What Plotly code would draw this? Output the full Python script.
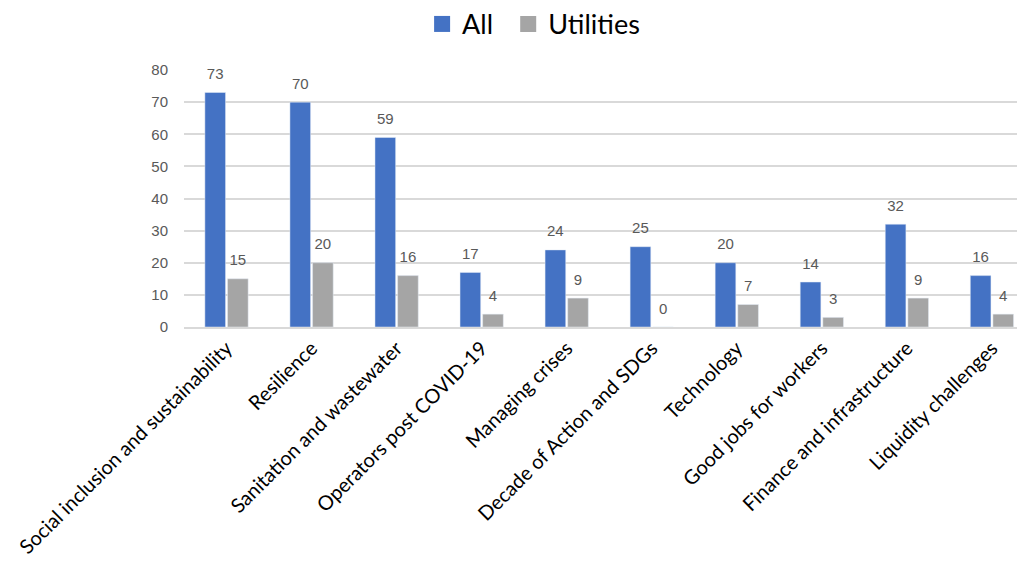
import plotly.graph_objects as go

categories = ["Social inclusion and sustainability", "Resilience", "Sanitation and wastewater",
              "Operators post COVID-19", "Managing crises", "Decade of Action and SDGs",
              "Technology", "Good jobs for workers", "Finance and infrastructure", "Liquidity challenges"]
all_vals = [73, 70, 59, 17, 24, 25, 20, 14, 32, 16]
util_vals = [15, 20, 16, 4, 9, 0, 7, 3, 9, 4]
y_ticks = [0, 10, 20, 30, 40, 50, 60, 70, 80]

series = [("All", all_vals, "#4472C4", "a", "legend"),
          ("Utilities", util_vals, "#A5A5A5", "b", "legend2")]
label_font = dict(color="#595959", size=15, family="Liberation Sans")

fig = go.Figure()
for name, vals, color, grp, lg in series:
    fig.add_trace(go.Bar(name=name, x=categories, y=vals, marker_color=color,
                         offsetgroup=grp, showlegend=False))
for name, vals, color, grp, lg in series:
    fig.add_trace(go.Scatter(x=categories, y=vals, mode="markers+text", text=vals,
                             textposition="top center", textfont=label_font,
                             marker=dict(size=14, opacity=0), offsetgroup=grp,
                             showlegend=False, cliponaxis=False, hoverinfo="skip"))
for name, vals, color, grp, lg in series:
    fig.add_trace(go.Scatter(x=[None], y=[None], mode="markers", name=name, legend=lg,
                             marker=dict(symbol="square", size=19, color=color),
                             xaxis="x2", yaxis="y2"))

legend_common = dict(orientation="h", xanchor="left", xref="container", yref="container",
                     y=0.971, yanchor="middle", itemwidth=30,
                     font=dict(size=27, family="Lato", color="#000000"))
fig.update_layout(
    width=1025, height=565,
    barmode="group", bargap=0.468, bargroupgap=0.087,
    scattermode="group", scattergap=0.468,
    margin=dict(l=176, r=13, t=62, b=246, autoexpand=False),
    plot_bgcolor="white", paper_bgcolor="white",
    legend=dict(x=0.404, **legend_common),
    legend2=dict(x=0.488, **legend_common),
    font=dict(family="Lato"),
    xaxis2=dict(visible=False, overlaying="x", range=[0, 1]),
    yaxis2=dict(visible=False, overlaying="y", range=[0, 1]),
)
fig.layout.xaxis.update(tickangle=-45, tickfont=dict(size=20, family="Lato", color="#000000"),
                        range=[-0.5, 9.33], showline=True, linecolor="#d9d9d9", linewidth=1.5,
                        ticks="", automargin=False)
fig.layout.yaxis.update(range=[0, 80], tickvals=y_ticks, showgrid=True, gridcolor="#d9d9d9",
                        gridwidth=1.5, tickfont=dict(size=15, family="Liberation Sans", color="#595959"),
                        zeroline=False, ticks="", ticklabelstandoff=15, automargin=False)

fig.write_html("out.html")
